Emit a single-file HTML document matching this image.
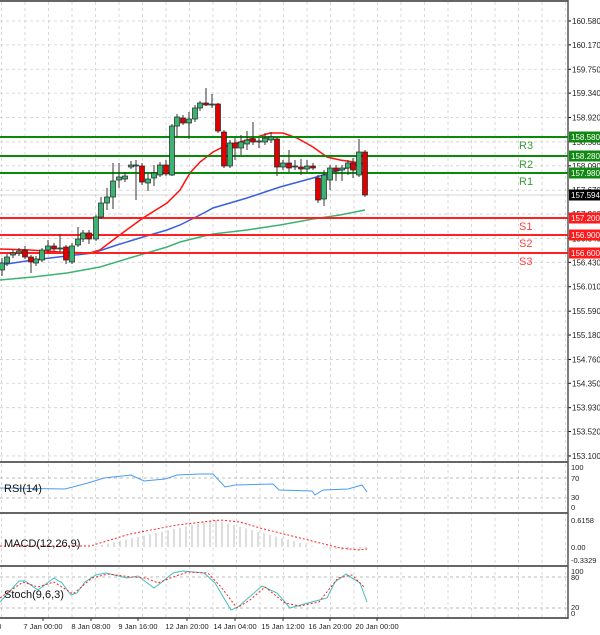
<!DOCTYPE html>
<html><head><meta charset="utf-8"><style>
html,body{margin:0;padding:0;background:#fff;width:600px;height:635px;overflow:hidden}
svg{display:block;font-family:"Liberation Sans",sans-serif}
</style></head><body>
<svg id="s" width="600" height="635" xmlns="http://www.w3.org/2000/svg"></svg>
<script>
const s=document.getElementById('s');let h='';
const Y=p=>21+(160.58-p)*58.15;
// grids
for(let k=0;k<25;k++){const x=1.5+23.5*k;if(x>566)break;
 h+=`<line x1="${x}" y1="2" x2="${x}" y2="618" stroke="#d0d0d0" stroke-dasharray="3,3" stroke-width="0.8"/>`;}
const labs=['160.580','160.170','159.750','159.340','158.920','158.500','158.090','157.670','157.260','156.840','156.430','156.010','155.590','155.180','154.760','154.350','153.930','153.520','153.100'];
labs.forEach(l=>{const y=Y(+l);h+=`<line x1="0" y1="${y}" x2="568" y2="${y}" stroke="#d0d0d0" stroke-dasharray="3,3" stroke-width="0.8"/>`;
 h+=`<line x1="568" y1="${y}" x2="571" y2="${y}" stroke="#000"/><text x="572" y="${y+3}" font-size="8" fill="#222">${l}</text>`;});
// current price line
h+=`<line x1="0" y1="195" x2="568" y2="195" stroke="#c8c8c8" stroke-width="0.8"/>`;
// MAs
const pl=(pts,c,w,d)=>`<polyline fill="none" stroke="${c}" stroke-width="${w}" ${d?`stroke-dasharray="${d}"`:''} points="${pts.map(p=>p.join(',')).join(' ')}"/>`;
h+=pl([[0,280],[33,277],[67,273],[100,267],[133,257],[167,247],[180,242],[200,237],[213,234],[247,230],[280,225],[313,219],[340,215],[365,210]],'#3cb371',1.5);
h+=pl([[0,265],[33,260],[67,256],[93,253],[117,245],[143,237],[167,230],[180,225],[200,215],[213,208],[247,198],[280,187],[313,178],[340,170],[363,163]],'#3a5fe0',1.5);
h+=pl([[0,249],[30,250],[60,252],[90,253],[100,250],[117,237],[143,218],[167,203],[180,190],[190,173],[200,162],[213,152],[223,147],[247,140],[270,133],[283,133],[297,138],[313,147],[327,157],[340,160],[360,163],[365,164]],'#ff1010',1.5);
// S/R lines
[[137,'#0a8a0a','R3','158.580'],[156,'#0a8a0a','R2','158.280'],[173,'#0a8a0a','R1','157.980'],[218,'#ff2020','S1','157.200'],[235,'#ff2020','S2','156.900'],[253,'#ff2020','S3','156.600']].forEach(([y,c,n,v])=>{
 h+=`<line x1="0" y1="${y}" x2="568" y2="${y}" stroke="${c}" stroke-width="2"/>`;
 h+=`<text x="519" y="${y+12}" font-size="11" fill="${c=='#0a8a0a'?'#3c9a3c':'#ff4040'}">${n}</text>`;
 h+=`<rect x="569" y="${y-5.5}" width="31" height="11" fill="${c=='#0a8a0a'?'#118811':'#ff1a1a'}"/><text x="571" y="${y+3}" font-size="8" fill="#fff">${v}</text>`;});
h+=`<rect x="569" y="189.5" width="31" height="11" fill="#000"/><text x="571" y="198" font-size="8" fill="#fff">157.594</text>`;
// candles
const C=[[2,'g',263,270,258,276],[7,'g',257,263,254,266],[13,'g',253,255,250,258],[19,'g',251,253,248,256],[25,'r',250,257,246,259],[31,'r',257,262,255,273],[36,'g',259,263,256,266],[42,'g',250,260,248,262],[48,'g',246,250,240,253],[54,'r',246,249,243,251],[60,'g',248,249,234,252],[66,'r',247,260,245,264],[72,'g',246,262,243,264],[78,'g',239,245,227,247],[83,'g',233,239,230,242],[89,'r',233,239,230,244],[96,'g',217,239,215,241],[101,'g',203,217,197,219],[107,'g',197,203,188,210],[113,'g',181,197,163,209],[119,'g',177,180,163,188],[125,'g',176,179,172,182],[131,'g',165,167,161,169],[136,'g',165,166,160,200],[142,'r',166,182,163,185],[148,'g',179,183,174,191],[154,'g',173,178,165,186],[160,'g',165,175,162,177],[166,'r',165,174,160,176],[172,'g',126,175,124,176],[177,'g',117,126,114,137],[183,'r',118,123,115,125],[189,'g',119,123,112,139],[195,'g',108,119,105,122],[200,'g',103,108,101,111],[206,'r',103,105,88,106],[212,'g',104,105,94,108],[218,'r',104,131,103,133],[224,'r',132,166,130,168],[230,'g',143,166,140,168],[235,'r',143,148,138,160],[241,'g',142,148,135,155],[247,'g',140,144,131,150],[253,'r',139,142,122,145],[259,'g',141,142,138,148],[265,'g',138,142,133,145],[271,'g',137,140,132,143],[277,'r',139,167,137,176],[283,'g',163,167,160,170],[289,'r',163,168,150,172],[295,'g',166,167,160,170],[301,'r',167,169,159,175],[307,'g',166,169,160,172],[313,'r',166,168,163,170],[318,'r',178,200,175,203],[324,'g',175,199,170,206],[330,'g',168,180,165,190],[336,'r',168,171,165,181],[342,'g',168,170,165,181],[348,'g',163,168,160,175],[353,'r',163,170,158,178],[359,'g',152,175,139,177],[365,'r',152,195,150,197]];
C.forEach(([x,c,t,b,wt,wb])=>{h+=`<line x1="${x}" y1="${wt}" x2="${x}" y2="${wb}" stroke="#333" stroke-width="1"/>`;
 h+=`<rect x="${x-2.5}" y="${t}" width="5" height="${Math.max(b-t,1)}" fill="${c=='g'?'#3cb371':'#e00000'}" stroke="#222" stroke-width="0.7"/>`;});
// panel borders
[1,462,513,566,618].forEach(y=>h+=`<line x1="0" y1="${y}" x2="568" y2="${y}" stroke="#666" stroke-width="2"/>`);
h+=`<line x1="568" y1="0" x2="568" y2="619" stroke="#555" stroke-width="1.5"/>`;
// RSI
h+=`<line x1="0" y1="478" x2="568" y2="478" stroke="#bbb" stroke-dasharray="3,3"/><line x1="0" y1="498" x2="568" y2="498" stroke="#bbb" stroke-dasharray="3,3"/>`;
h+=pl([[0,488],[65,489],[88,483],[104,478],[131,475],[144,481],[165,479],[177,475],[200,474],[213,474],[225,487],[235,485],[273,484],[279,490],[312,491],[315,495],[323,490],[348,489],[362,485],[367,492]],'#4a9cf0',1);
h+=`<text x="4" y="492" font-size="11" fill="#111">RSI(14)</text>`;
[['100',470],['70',481],['30',500],['0',510]].forEach(([t,y])=>h+=`<text x="571" y="${y}" font-size="7.5" fill="#222">${t}</text>`);
// MACD histogram
for(let x=96;x<=367;x+=6){let v;if(x<=215)v=(x-92)/123*27;else if(x<=315)v=27*(315-x)/100;else v=-Math.min(3,(x-315)/10);
 h+=`<line x1="${x}" y1="547" x2="${x}" y2="${547-v}" stroke="#bbb" stroke-width="1"/>`;}
h+=pl([[0,546],[90,546],[130,534],[177,525],[220,520],[240,522],[260,528],[300,538],[340,548],[360,550],[367,549]],'#ff2020',1,'2,2');
h+=`<text x="4" y="547" font-size="11" fill="#111">MACD(12,26,9)</text>`;
[['0.6158',523],['0.00',550],['-0.3329',563]].forEach(([t,y])=>h+=`<text x="571" y="${y}" font-size="7.5" fill="#222">${t}</text>`);
// Stoch
h+=`<line x1="0" y1="577" x2="568" y2="577" stroke="#bbb" stroke-dasharray="3,3"/><line x1="0" y1="608" x2="568" y2="608" stroke="#bbb" stroke-dasharray="3,3"/>`;
h+=pl([[0,602],[19,581],[25,581],[38,590],[54,578],[62,583],[71,595],[77,593],[85,582],[96,575],[106,573],[127,578],[138,576],[154,588],[162,582],[173,573],[183,571],[204,573],[215,583],[231,610],[238,607],[262,586],[277,593],[290,608],[308,603],[327,598],[335,582],[346,574],[360,583],[367,602]],'#40c0c0',1);
h+=pl([[0,598],[23,582],[38,587],[54,582],[73,594],[92,578],[108,574],[131,577],[146,578],[158,583],[173,577],[188,572],[208,573],[221,587],[237,608],[250,600],[265,587],[285,603],[300,606],[319,602],[338,578],[352,575],[365,588]],'#ff2020',1,'2,2');
h+=`<text x="4" y="598" font-size="11" fill="#111">Stoch(9,6,3)</text>`;
[['100',574],['80',580],['20',610],['0',616]].forEach(([t,y])=>h+=`<text x="571" y="${y}" font-size="7.5" fill="#222">${t}</text>`);
// time axis
[['16:00',-8],['7 Jan 00:00',43],['8 Jan 08:00',91],['9 Jan 16:00',138],['12 Jan 20:00',187],['14 Jan 04:00',235],['15 Jan 12:00',283],['16 Jan 20:00',330],['20 Jan 00:00',377]].forEach(([t,x])=>{
 h+=`<line x1="${x}" y1="618" x2="${x}" y2="621" stroke="#333"/><text x="${x}" y="629" font-size="7.5" fill="#222" text-anchor="middle">${t}</text>`;});
s.innerHTML=h;
</script>
</body></html>
